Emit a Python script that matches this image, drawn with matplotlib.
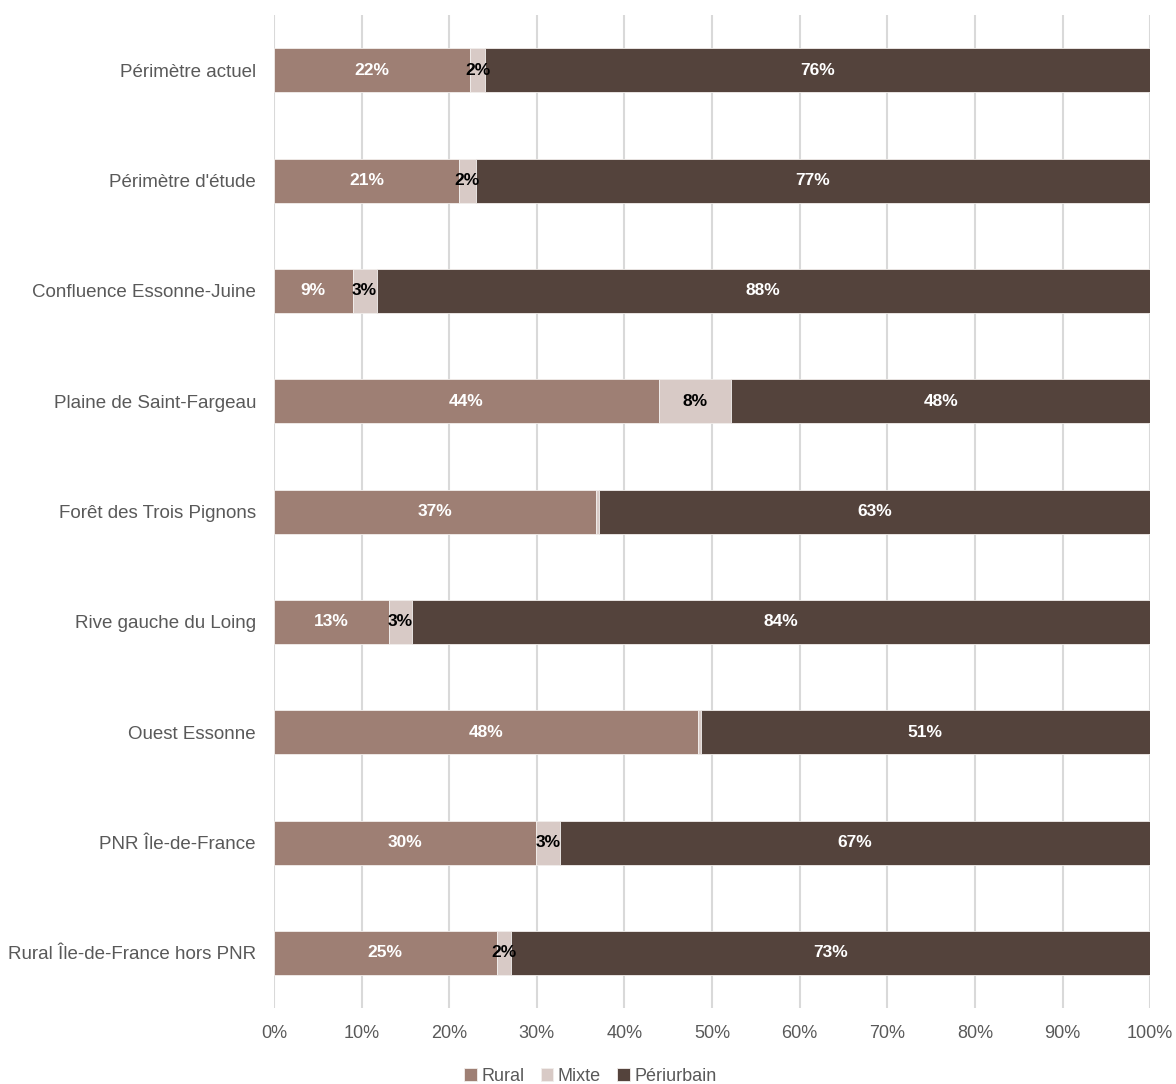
import matplotlib
matplotlib.use('Agg')
import matplotlib.pyplot as plt
import numpy as np

plt.rcParams['font.family'] = ['Liberation Sans', 'DejaVu Sans']

categories = [
    'Périmètre actuel',
    "Périmètre d'étude",
    'Confluence Essonne-Juine',
    'Plaine de Saint-Fargeau',
    'Forêt des Trois Pignons',
    'Rive gauche du Loing',
    'Ouest Essonne',
    'PNR Île-de-France',
    'Rural Île-de-France hors PNR',
]
rural = [22.4, 21.1, 9.0, 43.9, 36.7, 13.1, 48.4, 29.9, 25.4]
mixte = [1.7, 1.9, 2.7, 8.3, 0.4, 2.7, 0.3, 2.7, 1.6]
periurbain = [75.9, 77.0, 88.3, 47.8, 62.9, 84.2, 51.3, 67.4, 73.0]

series = ['Rural', 'Mixte', 'Périurbain']
colors = ['#9e7f74', '#d8cac6', '#54433c']
label_colors = ['white', 'black', 'white']
xticks = [0, 10, 20, 30, 40, 50, 60, 70, 80, 90, 100]

fig = plt.figure(figsize=(11.76, 10.84), dpi=100)
ax = fig.add_axes([0.233, 0.07, 0.745, 0.916])

y = np.arange(len(categories))
left = np.zeros(len(categories))
for name, vals, col, lcol in zip(series, [rural, mixte, periurbain], colors, label_colors):
    vals = np.array(vals)
    ax.barh(y, vals, left=left, height=0.4, color=col, edgecolor='#f2eeec',
            linewidth=0.6, label=name, zorder=3)
    for i, v in enumerate(vals):
        if round(v) >= 1:
            ax.text(left[i] + v / 2, y[i], '%d%%' % round(v), ha='center', va='center',
                    color=lcol, fontsize=12.5, fontweight='bold', zorder=4)
    left = left + vals

ax.set_xlim(0, 100)
ax.set_ylim(len(categories) - 0.5, -0.5)
ax.set_yticks(y)
ax.set_yticklabels(categories, fontsize=13.5, color='#595959')
ax.set_xticks(xticks)
ax.set_xticklabels(['%d%%' % t for t in xticks], fontsize=13, color='#595959')
ax.tick_params(axis='both', length=0)
ax.tick_params(axis='y', pad=13)
ax.tick_params(axis='x', pad=12)
ax.xaxis.grid(True, color='#d9d9d9', linewidth=1.5, zorder=0)
for s in ax.spines.values():
    s.set_visible(False)

fig.legend(loc='lower center', bbox_to_anchor=(0.502, -0.016), ncol=3, frameon=False,
           fontsize=13, handlelength=0.7, handleheight=0.7, handletextpad=0.25,
           columnspacing=0.9, labelcolor='#595959')

fig.savefig('out.png', dpi=100)
